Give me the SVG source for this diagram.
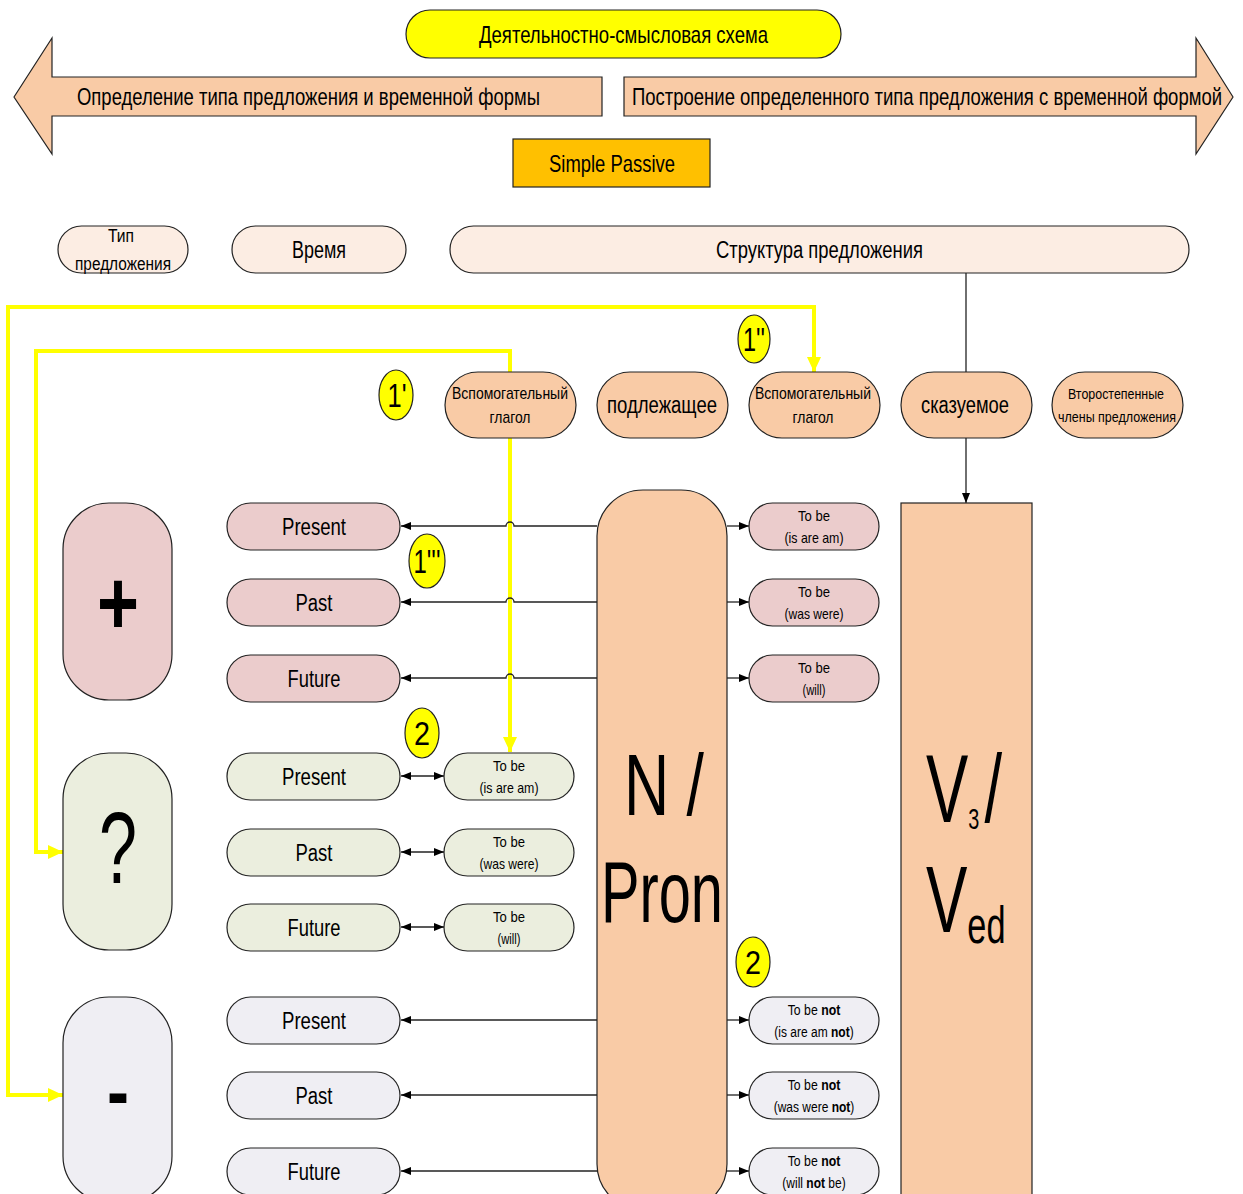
<svg xmlns="http://www.w3.org/2000/svg" width="1243" height="1194" viewBox="0 0 1243 1194">
<style>
text{font-family:"Liberation Sans",Arial,sans-serif;fill:#000;text-anchor:middle}
text.st{text-anchor:start}
.n{stroke:#222;stroke-width:1.2}
.hdr{fill:#FCEDE3}
.pe{fill:#F9CBA6}
.pk{fill:#EBCCCC}
.gr{fill:#EBEEDE}
.gy{fill:#EFEEF3}
.ye{fill:#FFFF00;stroke:#222;stroke-width:1.2}
.bl{stroke:#222;stroke-width:1.3;fill:none}
.yl{stroke:#FFFF00;stroke-width:4;fill:none}
.s{font-size:15px}
.m{font-size:23px}
.c{font-size:33px}
.b{font-weight:bold}
</style>
<defs>
<marker id="ah" markerUnits="userSpaceOnUse" markerWidth="12" markerHeight="12" viewBox="0 0 12 12" refX="11" refY="6" orient="auto-start-reverse"><path d="M1,2 L11,6 L1,10 Z" fill="#000"/></marker>
<marker id="yh" markerUnits="userSpaceOnUse" markerWidth="18" markerHeight="18" viewBox="0 0 18 18" refX="16" refY="9" orient="auto-start-reverse"><path d="M1,2 L16,9 L1,16 Z" fill="#FFFF00"/></marker>
</defs>

<!-- top -->
<g id="title"><rect class="n" x="406" y="10" width="435" height="48" rx="24" fill="#FFFF00"/><text x="623.5" y="43" font-size="24" textLength="289" lengthAdjust="spacingAndGlyphs">Деятельностно-смысловая схема</text></g>
<g id="arrowLeft"><path class="n pe" d="M14,97 L52,38 L52,77 L602,77 L602,116 L52,116 L52,154 Z"/><text x="308.5" y="105" font-size="24" textLength="463" lengthAdjust="spacingAndGlyphs">Определение типа предложения и временной формы</text></g>
<g id="arrowRight"><path class="n pe" d="M1233,97 L1196,38 L1196,77 L624,77 L624,116 L1196,116 L1196,154 Z"/><text x="927" y="105" font-size="24" textLength="590" lengthAdjust="spacingAndGlyphs">Построение определенного типа предложения с временной формой</text></g>
<g id="simplePassive"><rect class="n" x="513" y="139" width="197" height="48" fill="#FFC000"/><text x="612" y="172" font-size="24" textLength="126" lengthAdjust="spacingAndGlyphs">Simple Passive</text></g>

<!-- headers -->
<g id="hdrType"><rect class="n hdr" x="58" y="226" width="130" height="47" rx="23.5"/><text x="121" y="242" font-size="18" textLength="26" lengthAdjust="spacingAndGlyphs">Тип</text><text x="123" y="270" font-size="18" textLength="96" lengthAdjust="spacingAndGlyphs">предложения</text></g>
<g id="hdrTime"><rect class="n hdr" x="232" y="226" width="174" height="47" rx="23.5"/><text class="m" x="319" y="258" textLength="54" lengthAdjust="spacingAndGlyphs">Время</text></g>
<g id="hdrStruct"><rect class="n hdr" x="450" y="226" width="739" height="47" rx="23.5"/><text class="m" x="819.5" y="258" textLength="207" lengthAdjust="spacingAndGlyphs">Структура предложения</text></g>

<!-- connectors -->
<g id="connectors">
<path class="yl" d="M63,1095 H8 V307 H814 V372" marker-start="url(#yh)" marker-end="url(#yh)"/>
<path class="yl" d="M63,852 H36 V351 H510 V752" marker-start="url(#yh)" marker-end="url(#yh)"/>
<line class="bl" x1="966" y1="273" x2="966" y2="372"/>
<line class="bl" x1="966" y1="438" x2="966" y2="503" marker-end="url(#ah)"/>
<path class="bl" d="M597,526 H514 A4,4 0 0 0 506,526 H401" marker-end="url(#ah)"/>
<path class="bl" d="M597,602 H514 A4,4 0 0 0 506,602 H401" marker-end="url(#ah)"/>
<path class="bl" d="M597,678 H514 A4,4 0 0 0 506,678 H401" marker-end="url(#ah)"/>
<line class="bl" x1="401" y1="776" x2="444" y2="776" marker-start="url(#ah)" marker-end="url(#ah)"/>
<line class="bl" x1="401" y1="852" x2="444" y2="852" marker-start="url(#ah)" marker-end="url(#ah)"/>
<line class="bl" x1="401" y1="927" x2="444" y2="927" marker-start="url(#ah)" marker-end="url(#ah)"/>
<line class="bl" x1="597" y1="1020" x2="401" y2="1020" marker-end="url(#ah)"/>
<line class="bl" x1="597" y1="1095" x2="401" y2="1095" marker-end="url(#ah)"/>
<line class="bl" x1="600" y1="1171" x2="401" y2="1171" marker-end="url(#ah)"/>
<line class="bl" x1="727" y1="526" x2="749" y2="526" marker-end="url(#ah)"/>
<line class="bl" x1="727" y1="602" x2="749" y2="602" marker-end="url(#ah)"/>
<line class="bl" x1="727" y1="678" x2="749" y2="678" marker-end="url(#ah)"/>
<line class="bl" x1="727" y1="1020" x2="749" y2="1020" marker-end="url(#ah)"/>
<line class="bl" x1="727" y1="1095" x2="749" y2="1095" marker-end="url(#ah)"/>
<line class="bl" x1="722" y1="1171" x2="749" y2="1171" marker-end="url(#ah)"/>
</g>

<!-- second row -->
<g id="aux1"><rect class="n pe" x="445" y="372" width="131" height="66" rx="33"/><text x="510" y="399" font-size="17" textLength="116" lengthAdjust="spacingAndGlyphs">Вспомогательный</text><text x="510" y="423" font-size="17" textLength="41" lengthAdjust="spacingAndGlyphs">глагол</text></g>
<g id="subject"><rect class="n pe" x="597" y="372" width="131" height="66" rx="33"/><text class="m" x="662" y="413" textLength="110" lengthAdjust="spacingAndGlyphs">подлежащее</text></g>
<g id="aux2"><rect class="n pe" x="749" y="372" width="131" height="66" rx="33"/><text x="813" y="399" font-size="17" textLength="116" lengthAdjust="spacingAndGlyphs">Вспомогательный</text><text x="813" y="423" font-size="17" textLength="41" lengthAdjust="spacingAndGlyphs">глагол</text></g>
<g id="predicate"><rect class="n pe" x="901" y="372" width="131" height="66" rx="33"/><text class="m" x="965" y="413" textLength="88" lengthAdjust="spacingAndGlyphs">сказуемое</text></g>
<g id="secondary"><rect class="n pe" x="1052" y="372" width="131" height="66" rx="33"/><text class="s" x="1116" y="399" textLength="96" lengthAdjust="spacingAndGlyphs">Второстепенные</text><text class="s" x="1117" y="422" textLength="118" lengthAdjust="spacingAndGlyphs">члены предложения</text></g>

<!-- markers -->
<g id="m1a"><ellipse class="ye" cx="396" cy="395" rx="17" ry="25"/><text class="c" x="397" y="407" textLength="19" lengthAdjust="spacingAndGlyphs">1'</text></g>
<g id="m1b"><ellipse class="ye" cx="754" cy="339" rx="16" ry="24"/><text class="c" x="754" y="351" textLength="22" lengthAdjust="spacingAndGlyphs">1''</text></g>
<g id="m1c"><ellipse class="ye" cx="427" cy="561" rx="18" ry="27"/><text class="c" x="427" y="573" textLength="27" lengthAdjust="spacingAndGlyphs">1'''</text></g>
<g id="m2a"><ellipse class="ye" cx="422" cy="733" rx="17" ry="25"/><text class="c" x="422" y="745" textLength="16" lengthAdjust="spacingAndGlyphs">2</text></g>
<g id="m2b"><ellipse class="ye" cx="753" cy="962" rx="17" ry="25"/><text class="c" x="753" y="974" textLength="16" lengthAdjust="spacingAndGlyphs">2</text></g>

<!-- sign boxes -->
<g id="plus"><rect class="n pk" x="63" y="503" width="109" height="197" rx="46"/><text x="118" y="634" font-size="90" font-weight="bold" textLength="42" lengthAdjust="spacingAndGlyphs">+</text></g>
<g id="question"><rect class="n gr" x="63" y="753" width="109" height="197" rx="46"/><text x="118" y="883" font-size="102" textLength="38" lengthAdjust="spacingAndGlyphs">?</text></g>
<g id="minus"><rect class="n gy" x="63" y="997" width="109" height="205" rx="46"/><text x="118" y="1119" font-size="80" font-weight="bold" textLength="22" lengthAdjust="spacingAndGlyphs">-</text></g>

<!-- time pills -->
<g id="pPresent"><rect class="n pk" x="227" y="503" width="173" height="47" rx="23.5"/><text class="m" x="314" y="535" textLength="64" lengthAdjust="spacingAndGlyphs">Present</text></g>
<g id="pPast"><rect class="n pk" x="227" y="579" width="173" height="47" rx="23.5"/><text class="m" x="314" y="611" textLength="37" lengthAdjust="spacingAndGlyphs">Past</text></g>
<g id="pFuture"><rect class="n pk" x="227" y="655" width="173" height="47" rx="23.5"/><text class="m" x="314" y="687" textLength="53" lengthAdjust="spacingAndGlyphs">Future</text></g>
<g id="qPresent"><rect class="n gr" x="227" y="753" width="173" height="47" rx="23.5"/><text class="m" x="314" y="785" textLength="64" lengthAdjust="spacingAndGlyphs">Present</text></g>
<g id="qPast"><rect class="n gr" x="227" y="829" width="173" height="47" rx="23.5"/><text class="m" x="314" y="861" textLength="37" lengthAdjust="spacingAndGlyphs">Past</text></g>
<g id="qFuture"><rect class="n gr" x="227" y="904" width="173" height="47" rx="23.5"/><text class="m" x="314" y="936" textLength="53" lengthAdjust="spacingAndGlyphs">Future</text></g>
<g id="nPresent"><rect class="n gy" x="227" y="997" width="173" height="47" rx="23.5"/><text class="m" x="314" y="1029" textLength="64" lengthAdjust="spacingAndGlyphs">Present</text></g>
<g id="nPast"><rect class="n gy" x="227" y="1072" width="173" height="47" rx="23.5"/><text class="m" x="314" y="1104" textLength="37" lengthAdjust="spacingAndGlyphs">Past</text></g>
<g id="nFuture"><rect class="n gy" x="227" y="1148" width="173" height="47" rx="23.5"/><text class="m" x="314" y="1180" textLength="53" lengthAdjust="spacingAndGlyphs">Future</text></g>

<!-- question to-be -->
<g id="qTb1"><rect class="n gr" x="444" y="753" width="130" height="47" rx="23.5"/><text class="s" x="509" y="771" textLength="32" lengthAdjust="spacingAndGlyphs">To be</text><text class="s" x="509" y="793" textLength="59" lengthAdjust="spacingAndGlyphs">(is are am)</text></g>
<g id="qTb2"><rect class="n gr" x="444" y="829" width="130" height="47" rx="23.5"/><text class="s" x="509" y="847" textLength="32" lengthAdjust="spacingAndGlyphs">To be</text><text class="s" x="509" y="869" textLength="59" lengthAdjust="spacingAndGlyphs">(was were)</text></g>
<g id="qTb3"><rect class="n gr" x="444" y="904" width="130" height="47" rx="23.5"/><text class="s" x="509" y="922" textLength="32" lengthAdjust="spacingAndGlyphs">To be</text><text class="s" x="509" y="944" textLength="23" lengthAdjust="spacingAndGlyphs">(will)</text></g>

<!-- N/Pron -->
<g id="nPron"><rect class="n pe" x="597" y="490" width="130" height="720" rx="46"/><text x="664" y="815" font-size="88" textLength="80" lengthAdjust="spacingAndGlyphs">N /</text><text x="662" y="922" font-size="88" textLength="122" lengthAdjust="spacingAndGlyphs">Pron</text></g>

<!-- V3/Ved -->
<g id="verb"><rect class="n pe" x="901" y="503" width="131" height="700"/>
<text class="st" font-size="96" transform="translate(926,822) scale(0.66,1)">V<tspan font-size="30" dy="7">3</tspan><tspan dx="8" dy="-7">/</tspan></text>
<text class="st" font-size="94" transform="translate(926,932) scale(0.66,1)">V<tspan font-size="52" dy="11">ed</tspan></text></g>

<!-- right to-be -->
<g id="tb1"><rect class="n pk" x="749" y="503" width="130" height="47" rx="23.5"/><text class="s" x="814" y="521" textLength="32" lengthAdjust="spacingAndGlyphs">To be</text><text class="s" x="814" y="543" textLength="59" lengthAdjust="spacingAndGlyphs">(is are am)</text></g>
<g id="tb2"><rect class="n pk" x="749" y="579" width="130" height="47" rx="23.5"/><text class="s" x="814" y="597" textLength="32" lengthAdjust="spacingAndGlyphs">To be</text><text class="s" x="814" y="619" textLength="59" lengthAdjust="spacingAndGlyphs">(was were)</text></g>
<g id="tb3"><rect class="n pk" x="749" y="655" width="130" height="47" rx="23.5"/><text class="s" x="814" y="673" textLength="32" lengthAdjust="spacingAndGlyphs">To be</text><text class="s" x="814" y="695" textLength="23" lengthAdjust="spacingAndGlyphs">(will)</text></g>
<g id="tbn1"><rect class="n gy" x="749" y="997" width="130" height="47" rx="23.5"/><text class="s" transform="translate(814,1015) scale(0.82,1)">To be <tspan class="b">not</tspan></text><text class="s" transform="translate(814,1037) scale(0.8,1)">(is are am <tspan class="b">not</tspan>)</text></g>
<g id="tbn2"><rect class="n gy" x="749" y="1072" width="130" height="47" rx="23.5"/><text class="s" transform="translate(814,1090) scale(0.82,1)">To be <tspan class="b">not</tspan></text><text class="s" transform="translate(814,1112) scale(0.8,1)">(was were <tspan class="b">not</tspan>)</text></g>
<g id="tbn3"><rect class="n gy" x="749" y="1148" width="130" height="47" rx="23.5"/><text class="s" transform="translate(814,1166) scale(0.82,1)">To be <tspan class="b">not</tspan></text><text class="s" transform="translate(814,1188) scale(0.8,1)">(will <tspan class="b">not</tspan> be)</text></g>
</svg>
